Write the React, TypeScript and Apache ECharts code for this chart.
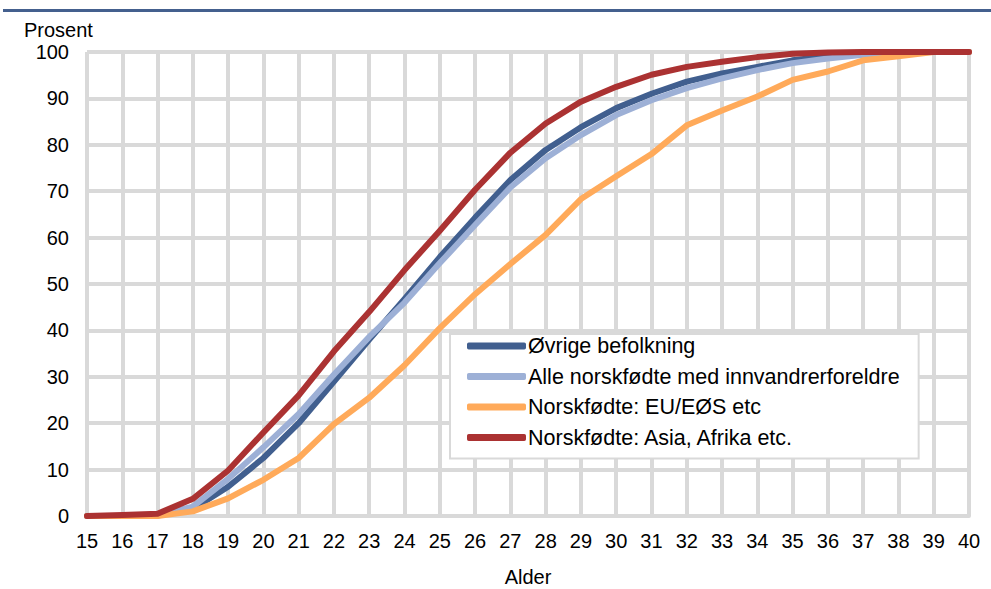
import React, { useEffect, useRef } from "react";
import * as echarts from "echarts";

const ages = ["15","16","17","18","19","20","21","22","23","24","25","26","27","28","29","30","31","32","33","34","35","36","37","38","39","40"];

const ovrige = [0, 0, 0.1, 1.5, 6.3, 12.5, 20, 29, 38, 46.8, 55.8, 64.3, 72.4, 78.9, 83.8, 87.9, 91, 93.6, 95.4, 96.8, 98.2, 99.1, 99.7, 100, 100, 100];
const alleNorskfodte = [0, 0, 0.2, 2, 8, 14.8, 22, 30.5, 38.6, 46, 54.5, 62.7, 70.8, 77.1, 82.1, 86.4, 89.6, 92.2, 94.3, 96.1, 97.6, 98.6, 99.4, 99.8, 100, 100];
const euEos = [0, 0, 0, 1, 3.8, 7.8, 12.5, 19.8, 25.5, 32.5, 40.5, 47.8, 54.3, 60.6, 68.3, 73.2, 78, 84.2, 87.4, 90.4, 94, 95.8, 98.2, 99.1, 100, 100];
const asiaAfrika = [0, 0.2, 0.5, 3.7, 9.8, 18, 26, 35.5, 44, 53, 61.5, 70.3, 78.3, 84.6, 89.3, 92.5, 95.1, 96.8, 97.9, 98.9, 99.6, 99.9, 100, 100, 100, 100];

const seriesNames = [
  "Øvrige befolkning",
  "Alle norskfødte med innvandrerforeldre",
  "Norskfødte: EU/EØS etc",
  "Norskfødte: Asia, Afrika etc.",
];
const seriesColors = ["#415f8f", "#9db0d6", "#ffaa5a", "#ab3232"];
const seriesData = [ovrige, alleNorskfodte, euEos, asiaAfrika];

const FONT = "'Liberation Sans', Arial, sans-serif";

export default function App() {
  const ref = useRef<HTMLDivElement>(null);
  useEffect(() => {
    if (!ref.current) return;
    const chart = echarts.init(ref.current, null, { renderer: "svg" });
    chart.setOption({
      animation: false,
      backgroundColor: "#ffffff",
      textStyle: { fontFamily: FONT },
      grid: { left: 87, right: 22, top: 52, bottom: 73, containLabel: false, outerBoundsMode: "none" },
      graphic: [
        {
          type: "rect",
          shape: { x: 3, y: 9, width: 988, height: 3 },
          style: { fill: "#44608e" },
          silent: true,
        },
        {
          type: "text",
          left: 24,
          top: 20,
          style: { text: "Prosent", font: `20px ${FONT}`, fill: "#000" },
        },
      ],
      legend: {
        orient: "vertical",
        left: 450,
        top: 334,
        backgroundColor: "#ffffff",
        borderColor: "#d9d9d9",
        borderWidth: 2,
        borderRadius: 0,
        padding: [1, 19, 10, 17],
        itemGap: 8.5,
        itemWidth: 59,
        itemHeight: 7,
        icon: "roundRect",
        textStyle: { fontSize: 21.5, color: "#000", fontFamily: FONT, padding: [0, 0, 0, -3], lineHeight: 22 },
        data: seriesNames,
      },
      xAxis: {
        type: "category",
        data: ages,
        boundaryGap: false,
        name: "Alder",
        nameLocation: "middle",
        nameGap: 51,
        nameTextStyle: { fontSize: 20, color: "#000", fontFamily: FONT },
        axisLine: { show: true, lineStyle: { color: "#d9d9d9", width: 4 } },
        axisTick: { show: false },
        axisLabel: { fontSize: 20, color: "#000", margin: 15, interval: 0, fontFamily: FONT },
        splitLine: { show: true, interval: 0, lineStyle: { color: "#d9d9d9", width: 4 } },
      },
      yAxis: {
        type: "value",
        min: 0,
        max: 100,
        interval: 10,
        axisLine: { show: false },
        axisTick: { show: false },
        axisLabel: { fontSize: 20, color: "#000", margin: 18, fontFamily: FONT },
        splitLine: { show: true, lineStyle: { color: "#d9d9d9", width: 4 } },
      },
      series: seriesNames.map((name, i) => ({
        name,
        type: "line",
        data: seriesData[i],
        showSymbol: false,
        symbol: "none",
        lineStyle: { color: seriesColors[i], width: 6, join: "round", cap: "round" },
        itemStyle: { color: seriesColors[i] },
        z: 2 + i,
      })),
    });
    return () => chart.dispose();
  }, []);
  return (
    <div
      ref={ref}
      style={{ position: "fixed", left: 0, top: 0, width: 991, height: 589 }}
    />
  );
}
